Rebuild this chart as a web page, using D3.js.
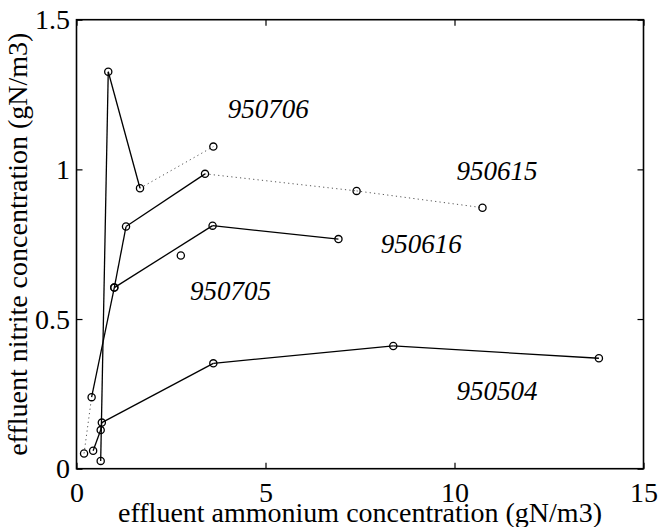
<!DOCTYPE html>
<html>
<head>
<meta charset="utf-8">
<script src="https://cdn.jsdelivr.net/npm/d3@7"></script>
<style>
  html, body { margin: 0; padding: 0; background: #fff; }
  svg { display: block; }
</style>
</head>
<body>
<svg id="chart" width="660" height="527"></svg>
<script>
// Effluent ammonium (x) vs effluent nitrite (y), gN/m3, one run per experiment date.
const xTicks = [0, 5, 10, 15];
const yTicks = [0, 0.5, 1, 1.5];

// 950706
const nh4_950706 = [0.64, 0.84, 1.68, 3.62];
const no2_950706 = [0.026, 1.326, 0.937, 1.076];
const solid_950706 = [0, 2];      // index range joined by a full line; the rest is dotted

// 950615
const nh4_950615 = [1.00, 1.31, 3.40, 7.41, 10.74];
const no2_950615 = [0.605, 0.809, 0.985, 0.928, 0.872];
const solid_950615 = [0, 2];

// 950616
const nh4_950616 = [0.20, 0.40, 1.00, 3.60, 6.93];
const no2_950616 = [0.051, 0.239, 0.605, 0.812, 0.767];
const solid_950616 = [1, 4];

// 950705
const nh4_950705 = [2.76];
const no2_950705 = [0.712];
const solid_950705 = [0, 0];

// 950504
const nh4_950504 = [0.44, 0.64, 0.67, 3.62, 8.38, 13.82];
const no2_950504 = [0.060, 0.129, 0.154, 0.352, 0.410, 0.369];
const solid_950504 = [0, 5];

const runLabels = ["950706", "950615", "950616", "950705", "950504"];
const runs = [
  [nh4_950706, no2_950706, solid_950706],
  [nh4_950615, no2_950615, solid_950615],
  [nh4_950616, no2_950616, solid_950616],
  [nh4_950705, no2_950705, solid_950705],
  [nh4_950504, no2_950504, solid_950504]
].map(([xs, ys, s], i) => ({
  name: runLabels[i],
  pts: xs.map((v, j) => [v, ys[j]]),
  solid: s
}));

// where each run's date is written (data coordinates of the text's start, on its baseline)
const labelAt = {
  "950706": [4.0, 1.170],
  "950615": [10.05, 0.966],
  "950616": [8.05, 0.720],
  "950705": [3.0, 0.563],
  "950504": [10.05, 0.230]
};

const FONT = "Liberation Serif";
const svg = d3.select("#chart");
const L = 76.5, R = 643.5, T = 19.7, B = 468.7;
const x = d3.scaleLinear().domain([0, 15]).range([L, R]);
const y = d3.scaleLinear().domain([0, 1.5]).range([B, T]);
const fmt = d => d3.format("")(d);

// axes, ticks pointing inward, mirrored on top and right
const tickLen = 6;
const gx = svg.append("g").attr("transform", `translate(0,${B})`)
  .call(d3.axisBottom(x).tickValues(xTicks).tickFormat(fmt)
    .tickSizeInner(-tickLen).tickSizeOuter(0).tickPadding(13));
const gy = svg.append("g").attr("transform", `translate(${L},0)`)
  .call(d3.axisLeft(y).tickValues(yTicks).tickFormat(fmt)
    .tickSizeInner(-tickLen).tickSizeOuter(0).tickPadding(6.5));
const gt = svg.append("g").attr("transform", `translate(0,${T})`)
  .call(d3.axisTop(x).tickValues(xTicks).tickFormat("")
    .tickSizeInner(-tickLen).tickSizeOuter(0));
const gr = svg.append("g").attr("transform", `translate(${R},0)`)
  .call(d3.axisRight(y).tickValues(yTicks).tickFormat("")
    .tickSizeInner(-tickLen).tickSizeOuter(0));
[gx, gy, gt, gr].forEach(g => {
  g.attr("font-family", FONT).attr("font-size", 28);
  g.select(".domain").remove();
  g.selectAll("line").attr("stroke", "#000").attr("stroke-width", 1.2);
  g.selectAll("text").attr("font-size", 28).attr("font-family", FONT).attr("fill", "#000");
});

svg.append("rect")
  .attr("x", L).attr("y", T).attr("width", R - L).attr("height", B - T)
  .attr("fill", "none").attr("stroke", "#000").attr("stroke-width", 1.6);

// axis titles
svg.append("text")
  .attr("x", (L + R) / 2).attr("y", 522)
  .attr("text-anchor", "middle").attr("font-size", 28).attr("font-family", FONT)
  .text("effluent ammonium concentration (gN/m3)");
svg.append("text")
  .attr("transform", `translate(27,${(T + B) / 2}) rotate(-90)`)
  .attr("text-anchor", "middle").attr("font-size", 28).attr("font-family", FONT)
  .text("effluent nitrite concentration (gN/m3)");

// lines
const line = d3.line().x(d => x(d[0])).y(d => y(d[1]));
const plot = svg.append("g");
runs.forEach(r => {
  const [a, b] = r.solid;
  for (let j = 0; j < r.pts.length - 1; j++) {
    const seg = [r.pts[j], r.pts[j + 1]];
    const full = j >= a && j < b;
    const p = plot.append("path").attr("d", line(seg)).attr("fill", "none");
    if (full) {
      p.attr("stroke", "#000").attr("stroke-width", 1.3);
    } else {
      p.attr("stroke", "#555").attr("stroke-width", 1).attr("stroke-dasharray", "1.2,3.2");
    }
  }
});

// markers
runs.forEach(r => {
  plot.selectAll(null).data(r.pts).enter().append("circle")
    .attr("cx", d => x(d[0])).attr("cy", d => y(d[1])).attr("r", 3.6)
    .attr("fill", "none").attr("stroke", "#000").attr("stroke-width", 1.3);
});

// run labels
runLabels.forEach(n => {
  const [lx, ly] = labelAt[n];
  svg.append("text")
    .attr("x", x(lx)).attr("y", y(ly))
    .attr("font-size", 27).attr("font-style", "italic").attr("font-family", FONT)
    .text(n);
});
</script>
</body>
</html>
